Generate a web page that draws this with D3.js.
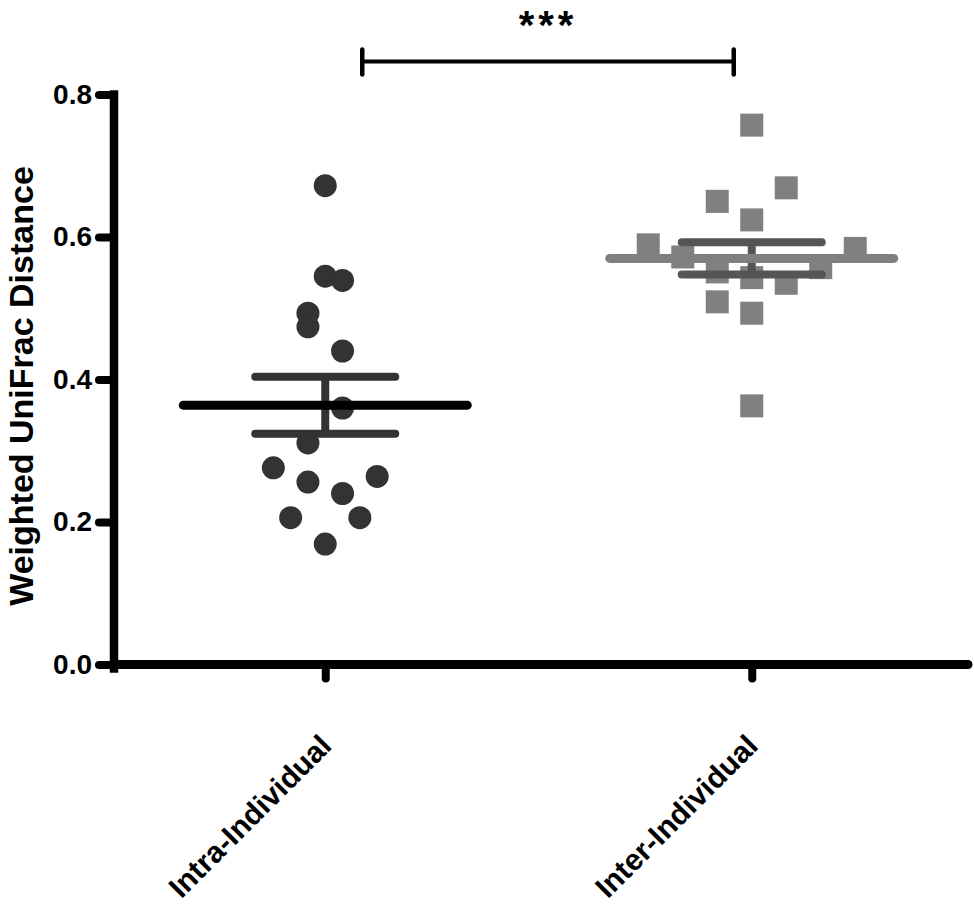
<!DOCTYPE html>
<html>
<head>
<meta charset="utf-8">
<script src="https://cdn.jsdelivr.net/npm/d3@7"></script>
<style>
  html, body { margin: 0; padding: 0; background: #fff; }
  svg { display: block; font-family: Arial, "Liberation Sans", sans-serif; }
</style>
</head>
<body>
<svg id="chart" width="974" height="909"></svg>
<script>
// ---- data ----
const categories = ["Intra-Individual", "Inter-Individual"];
const intraValues = [0.672, 0.545, 0.539, 0.493, 0.474, 0.440, 0.360, 0.311, 0.276, 0.256, 0.264, 0.240, 0.206, 0.206, 0.169];
const intraColumn = [0, 0, 1, -1, -1, 1, 1, -1, -3, -1, 3, 1, -2, 2, 0];
const interValues = [0.757, 0.669, 0.650, 0.624, 0.589, 0.584, 0.572, 0.551, 0.543, 0.535, 0.557, 0.509, 0.493, 0.363];
const interColumn = [0, 1, -1, 0, -3, 3, -2, -1, 0, 1, 2, -1, 0, 0];
const groupMean = [0.364, 0.570];
const groupSEM = [0.040, 0.0225];
const yTicks = [0.0, 0.2, 0.4, 0.6, 0.8];
const yTitle = "Weighted UniFrac Distance";
const sigLabel = "***";

// ---- layout ----
const svg = d3.select("#chart");
const x = d3.scalePoint().domain(categories).range([112, 965]).padding(0.5);
const y = d3.scaleLinear().domain([0, 0.8]).range([664.5, 94.5]);
const colStep = [17.3, 34.5];
const colX = (gi, c) => x(categories[gi]) + c * colStep[gi];

const font = 'Arial, "Liberation Sans", sans-serif';

// y axis
const yAxis = d3.axisLeft(y).tickValues(yTicks).tickFormat(d3.format(".1f")).tickSize(15).tickPadding(7);
const gy = svg.append("g").attr("transform", "translate(114,0)").call(yAxis);
gy.select(".domain").remove();
gy.selectAll(".tick line").attr("stroke", "#000").attr("stroke-width", 8).attr("stroke-linecap", "round");
gy.selectAll(".tick text").attr("font-size", 28).attr("font-weight", "bold").attr("fill", "#000").attr("font-family", font);

// x axis
const xAxis = d3.axisBottom(x).tickSize(14).tickFormat("");
const gx = svg.append("g").attr("transform", "translate(0," + y(0) + ")").call(xAxis);
gx.select(".domain").remove();
gx.selectAll(".tick line").attr("stroke", "#000").attr("stroke-width", 8).attr("stroke-linecap", "round");

// axis lines
svg.append("line").attr("x1", 114).attr("x2", 114).attr("y1", y(0.8)).attr("y2", y(0) + 4)
  .attr("stroke", "#000").attr("stroke-width", 8.5).attr("stroke-linecap", "square");
svg.append("line").attr("x1", 114).attr("x2", 968).attr("y1", y(0)).attr("y2", y(0))
  .attr("stroke", "#000").attr("stroke-width", 9).attr("stroke-linecap", "round");

// x labels
categories.forEach(c => {
  svg.append("text")
    .attr("transform", "translate(" + (x(c) + 8) + "," + (y(0) + 83) + ") rotate(-45)")
    .attr("text-anchor", "end")
    .attr("font-size", 30).attr("font-weight", "bold").attr("font-family", font)
    .attr("fill", "#000")
    .text(c);
});

// y title
svg.append("text")
  .attr("transform", "translate(33,386) rotate(-90)")
  .attr("text-anchor", "middle")
  .attr("font-size", 34).attr("font-weight", "bold").attr("font-family", font)
  .attr("fill", "#000")
  .text(yTitle);

// points
svg.append("g").selectAll("circle").data(intraValues).join("circle")
  .attr("cx", (d, i) => colX(0, intraColumn[i]))
  .attr("cy", d => y(d))
  .attr("r", 11.5)
  .attr("fill", "#333333");

const sq = 23;
svg.append("g").selectAll("rect").data(interValues).join("rect")
  .attr("x", (d, i) => colX(1, interColumn[i]) - sq / 2)
  .attr("y", d => y(d) - sq / 2)
  .attr("width", sq).attr("height", sq)
  .attr("fill", "#808080");

// SEM and mean
const semColor = ["#333333", "#555555"];
const meanColor = ["#000000", "#808080"];
categories.forEach((c, i) => {
  const cx = x(c);
  const g = svg.append("g");
  const top = y(groupMean[i] + groupSEM[i]);
  const bot = y(groupMean[i] - groupSEM[i]);
  g.append("line").attr("x1", cx).attr("x2", cx).attr("y1", top).attr("y2", bot)
    .attr("stroke", semColor[i]).attr("stroke-width", 8);
  [top, bot].forEach(yy => {
    g.append("line").attr("x1", cx - 70).attr("x2", cx + 70).attr("y1", yy).attr("y2", yy)
      .attr("stroke", semColor[i]).attr("stroke-width", 8).attr("stroke-linecap", "round");
  });
  g.append("line").attr("x1", cx - 142).attr("x2", cx + 142)
    .attr("y1", y(groupMean[i])).attr("y2", y(groupMean[i]))
    .attr("stroke", meanColor[i]).attr("stroke-width", 9).attr("stroke-linecap", "round");
});

// significance bracket
const bx1 = x(categories[0]) + 37, bx2 = x(categories[1]) - 18, by = 61.5;
svg.append("line").attr("x1", bx1).attr("x2", bx2).attr("y1", by).attr("y2", by)
  .attr("stroke", "#000").attr("stroke-width", 4);
[bx1, bx2].forEach(bx => {
  svg.append("line").attr("x1", bx).attr("x2", bx).attr("y1", by - 12).attr("y2", by + 13)
    .attr("stroke", "#000").attr("stroke-width", 4.5).attr("stroke-linecap", "round");
});
svg.append("text")
  .attr("x", (bx1 + bx2) / 2).attr("y", 39)
  .attr("text-anchor", "middle")
  .attr("font-size", 40).attr("font-weight", "bold").attr("font-family", font)
  .attr("letter-spacing", 4)
  .attr("fill", "#000")
  .text(sigLabel);
</script>
</body>
</html>
